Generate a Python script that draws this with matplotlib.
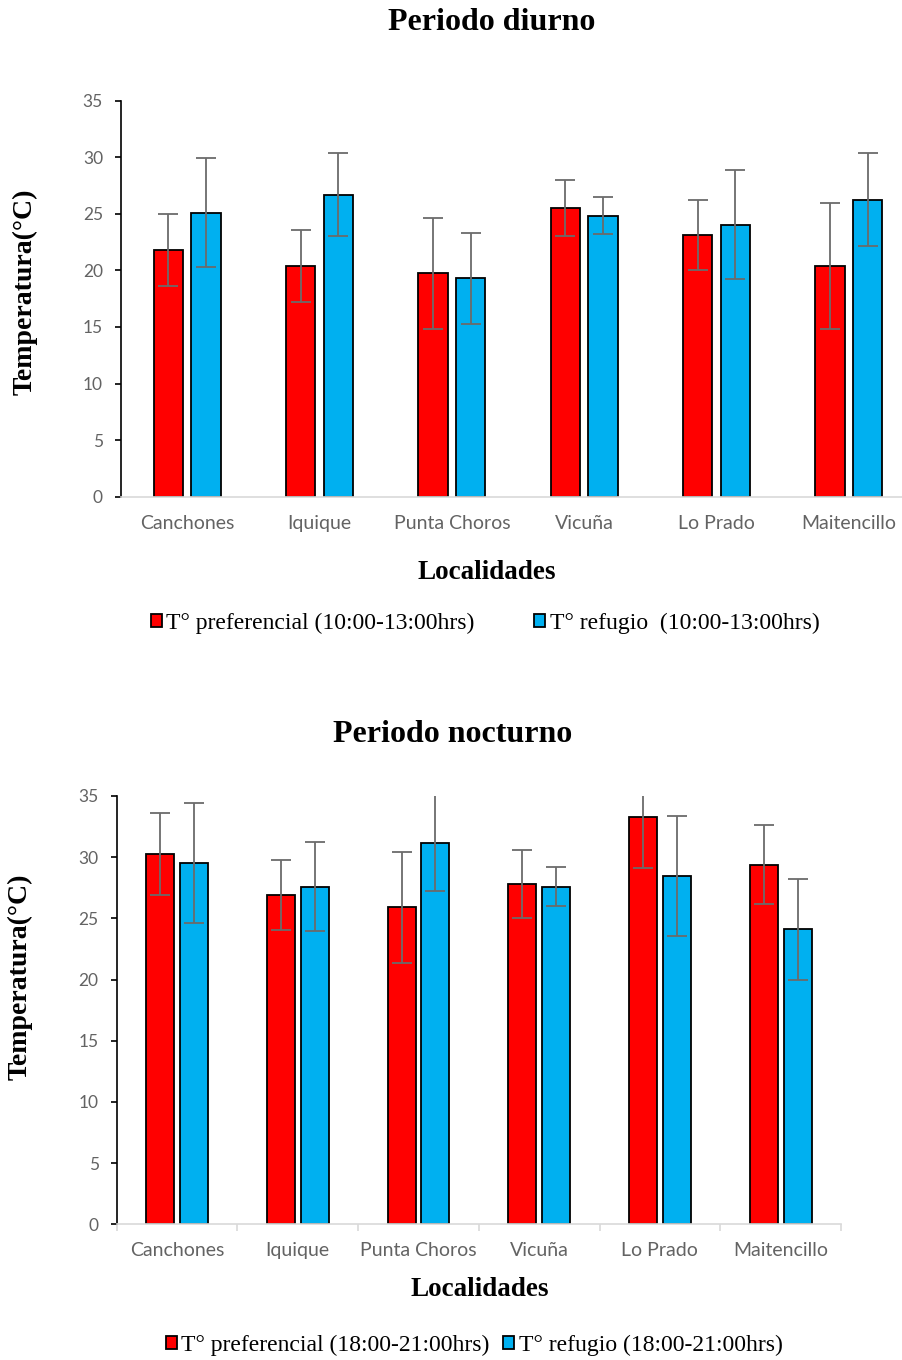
import matplotlib
matplotlib.use("Agg")
import matplotlib.pyplot as plt
import numpy as np

# ---------------- data ----------------
localidades = ["Canchones", "Iquique", "Punta Choros", "Vicuña", "Lo Prado", "Maitencillo"]

diurno_pref = [21.8, 20.4, 19.75, 25.5, 23.1, 20.4]
diurno_pref_err = [3.2, 3.2, 4.9, 2.5, 3.1, 5.6]
diurno_ref = [25.1, 26.7, 19.3, 24.85, 24.05, 26.25]
diurno_ref_err = [4.8, 3.7, 4.0, 1.6, 4.85, 4.1]

nocturno_pref = [30.25, 26.9, 25.9, 27.8, 33.3, 29.4]
nocturno_pref_err = [3.35, 2.85, 4.55, 2.8, 4.2, 3.25]
nocturno_ref = [29.5, 27.6, 31.15, 27.6, 28.5, 24.1]
nocturno_ref_err = [4.9, 3.65, 3.95, 1.6, 4.9, 4.15]

yticks = [0, 5, 10, 15, 20, 25, 30, 35]

lab_diurno = ["T° preferencial (10:00-13:00hrs)", "T° refugio  (10:00-13:00hrs)"]
lab_nocturno = ["T° preferencial (18:00-21:00hrs)", "T° refugio (18:00-21:00hrs)"]

RED = "#FF0000"
BLUE = "#00B0F0"
ERR = "#6b6b6b"
TICKC = "#636363"
SERIF = ["Liberation Serif", "DejaVu Serif"]
SANS = ["Lato", "DejaVu Sans"]

W, H = 902, 1360
fig = plt.figure(figsize=(W / 100, H / 100), dpi=100)


def px(x, y):
    return x / W, 1 - y / H


def panel(rect, pref, pref_err, ref, ref_err, width, off, boundary_ticks, labels):
    ax = fig.add_axes(rect)
    x = np.arange(len(localidades))
    ekw = dict(ecolor=ERR, elinewidth=1.3, capsize=7.5, capthick=1.3)
    b1 = ax.bar(x - off, pref, width, color=RED, edgecolor="black", linewidth=1.3,
                yerr=pref_err, error_kw=ekw, label=labels[0], zorder=2)
    b2 = ax.bar(x + off, ref, width, color=BLUE, edgecolor="black", linewidth=1.3,
                yerr=ref_err, error_kw=ekw, label=labels[1], zorder=2)
    ax.set_xlim(-0.5, len(localidades) - 0.5)
    ax.set_ylim(0, 35)
    ax.set_yticks(yticks)
    ax.set_xticks(x)
    ax.set_xticklabels(localidades)
    for s in ["top", "right"]:
        ax.spines[s].set_visible(False)
    ax.spines["left"].set_color("black")
    ax.spines["left"].set_linewidth(1.2)
    ax.spines["bottom"].set_color("#d9d9d9")
    ax.spines["bottom"].set_linewidth(1.2)
    ax.tick_params(axis="y", length=4, width=1.2, color="black", pad=9,
                   labelsize=12.5, labelcolor=TICKC)
    ax.tick_params(axis="x", length=0, labelsize=14, labelcolor=TICKC, pad=13)
    for t in ax.get_xticklabels() + ax.get_yticklabels():
        t.set_family(SANS)
    if boundary_ticks:
        ax.set_xticks(np.arange(len(localidades) + 1) - 0.5, minor=True)
        ax.tick_params(axis="x", which="minor", length=5, width=1.2, color="#d9d9d9")
    return ax, b1, b2


# top panel
l, b = px(121, 496.7)
_, t = px(0, 100.7)
ax1, a1, a2 = panel([l, b, 794 / W, t - b], diurno_pref, diurno_pref_err,
                    diurno_ref, diurno_ref_err, 0.22, 0.142, False, lab_diurno)

# bottom panel
l, b = px(116.7, 1224.3)
_, t = px(0, 796)
ax2, c1, c2 = panel([l, b, 724.3 / W, t - b], nocturno_pref, nocturno_pref_err,
                    nocturno_ref, nocturno_ref_err, 0.232, 0.14, True, lab_nocturno)

# titles and axis labels
fig.text(*px(492, 23), "Periodo diurno", ha="center", va="center",
         fontsize=23, fontweight="bold", family=SERIF)
fig.text(*px(453, 734), "Periodo nocturno", ha="center", va="center",
         fontsize=23, fontweight="bold", family=SERIF)
fig.text(*px(487, 572), "Localidades", ha="center", va="center",
         fontsize=19.5, fontweight="bold", family=SERIF)
fig.text(*px(480, 1290), "Localidades", ha="center", va="center",
         fontsize=19.5, fontweight="bold", family=SERIF)
fig.text(*px(25, 292), "Temperatura(°C)", ha="center", va="center", rotation=90,
         fontsize=20, fontweight="bold", family=SERIF)
fig.text(*px(20, 977), "Temperatura(°C)", ha="center", va="center", rotation=90,
         fontsize=20, fontweight="bold", family=SERIF)

# legends
leg_kw = dict(loc="center", ncol=2, frameon=False, handlelength=0.47, handleheight=0.47,
              handletextpad=0.2, prop={"family": SERIF, "size": 17})
fig.legend(handles=[a1, a2], labels=lab_diurno, bbox_to_anchor=px(485, 623),
           columnspacing=2.5, **leg_kw)
fig.legend(handles=[c1, c2], labels=lab_nocturno, bbox_to_anchor=px(474, 1345),
           columnspacing=0.55, **leg_kw)

fig.savefig("out.png", dpi=100)
